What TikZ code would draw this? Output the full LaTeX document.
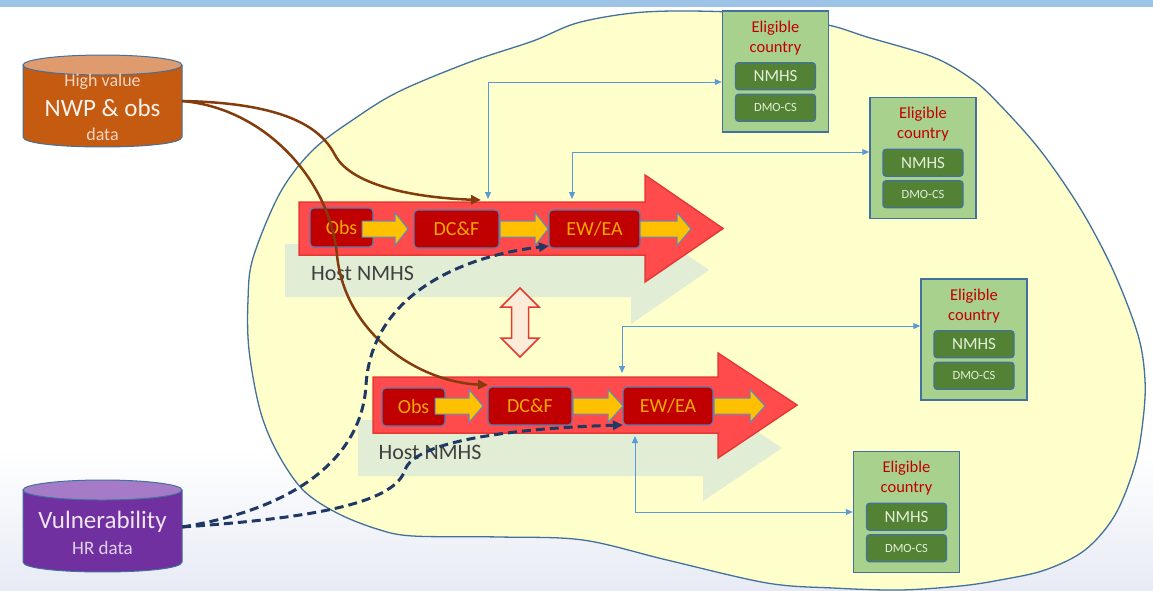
\documentclass[tikz,border=0pt]{standalone}
\usepackage{fontspec}
\setmainfont{Carlito}
\usetikzlibrary{arrows.meta,calc}
\definecolor{topbar}{HTML}{9DC3E6}
\definecolor{bgbot}{HTML}{E8EBF5}
\definecolor{blobfill}{HTML}{FFFFCC}
\definecolor{blobline}{HTML}{41719C}
\definecolor{arrred}{HTML}{FF4B4B}
\definecolor{arrredline}{HTML}{E53935}
\definecolor{shadowgr}{HTML}{E2EDD6}
\definecolor{boxred}{HTML}{C00000}
\definecolor{boxedge}{HTML}{5B7DB0}
\definecolor{boxtxt}{HTML}{F5A800}
\definecolor{yel}{HTML}{FFC000}
\definecolor{yeledge}{HTML}{5B8CC0}
\definecolor{hosttxt}{HTML}{404040}
\definecolor{dbfill}{HTML}{FDEBD9}
\definecolor{dbline}{HTML}{E03C31}
\definecolor{egreen}{HTML}{A9D18E}
\definecolor{dgreen}{HTML}{548235}
\definecolor{gtxt}{HTML}{E2F0D9}
\definecolor{etitle}{HTML}{C00000}
\definecolor{blink}{HTML}{5B9BD5}
\definecolor{brown}{HTML}{843C0C}
\definecolor{navy}{HTML}{1F3864}
\definecolor{cylor}{HTML}{C55A11}
\definecolor{cylortop}{HTML}{DF9B6E}
\definecolor{cylpu}{HTML}{7030A0}
\definecolor{cylputop}{HTML}{A57BC8}
\newcommand{\yelarrow}[4]{%
  \draw[yarrow] (#1,#4-8) -- (#2,#4-8) -- (#2,#4-16.5) -- (#3,#4) -- (#2,#4+16.5) -- (#2,#4+8) -- (#1,#4+8) -- cycle;}
\begin{document}
\begin{tikzpicture}[x=1pt,y=-1pt,
  rbox/.style={draw=boxedge, line width=1.2pt, fill=boxred, rounded corners=4pt, text=boxtxt, font=\fontsize{20}{22}\selectfont, inner sep=0pt},
  yarrow/.style={draw=yeledge, line width=1pt, fill=yel},
  bigarrow/.style={draw=arrredline, line width=1.5pt, fill=arrred},
  shadowarrow/.style={fill=shadowgr},
  hosttext/.style={text=hosttxt, font=\fontsize{22}{24}\selectfont, inner sep=0pt},
  ebox/.style={draw=blobline, line width=1.5pt, fill=egreen, minimum width=106pt, minimum height=121pt, inner sep=0pt},
  etitle/.style={text=etitle, font=\fontsize{16.5}{20}\selectfont, align=center, inner sep=0pt},
  gbox/.style={draw=blobline, line width=1.2pt, fill=dgreen, rounded corners=3pt, minimum width=80pt, minimum height=27pt, text=gtxt, font=\fontsize{17}{18}\selectfont, inner sep=0pt},
  gsmall/.style={font=\fontsize{12.5}{14}\selectfont},
  bline/.style={draw=blink, line width=1pt, {Triangle[length=7pt,width=6pt]}-{Triangle[length=7pt,width=6pt]}},
  bcurve/.style={draw=brown, line width=2.5pt, -{Triangle[length=10pt,width=9pt]}},
  ncurve/.style={draw=navy, line width=3pt, dash pattern=on 9pt off 5pt, -{Triangle[length=10pt,width=9pt]}},
  cyl/.style={draw=blobline, line width=1pt}
]
\useasboundingbox (0,0) rectangle (1153,590);
% background
\fill[white] (0,0) rectangle (1153,450);
\shade[top color=white, bottom color=bgbot] (0,450) rectangle (1153,590);
\fill[topbar] (0,0) rectangle (1153,7);
% blob
\draw[draw=blobline, line width=1.3pt, fill=blobfill] plot[smooth cycle, tension=0.55] coordinates {
 (690,11) (760,14) (828,25) (867,37) (933,57) (973,80) (1000,105) (1040,150) (1080,208) (1113,270)
 (1138,335) (1145,380) (1143,420) (1135,465) (1115,515) (1085,550) (1045,570) (1000,580) (960,586)
 (900,590) (833,588) (767,583) (667,560) (583,540) (500,537) (413,536) (377,529) (337,513) (303,490)
 (277,452) (260,410) (249,350) (248,300) (253,258) (280,193) (313,150) (357,117) (400,91) (470,62)
 (533,41) (577,23) (633,13)};
% shadow arrows
\fill[shadowarrow] (285,244) -- (631,244) -- (631,217) -- (709,270) -- (631,324) -- (631,297) -- (285,297) -- cycle;
\fill[shadowarrow] (358,420) -- (703,420) -- (703,396) -- (782,448) -- (703,501) -- (703,476) -- (358,476) -- cycle;
% big red arrows
\draw[bigarrow] (299,202) -- (645,202) -- (645,175) -- (723,228.5) -- (645,282) -- (645,255) -- (299,255) -- cycle;
\draw[bigarrow] (373,377) -- (718,377) -- (718,353) -- (797,405) -- (718,458) -- (718,433) -- (373,433) -- cycle;
% process boxes
\node[rbox, minimum width=63pt, minimum height=39pt] (obs1) at (341.5,227.5) {Obs};
\node[rbox, minimum width=85pt, minimum height=38pt] (dcf1) at (456.5,229) {DC\&F};
\node[rbox, minimum width=91pt, minimum height=38pt] (ewa1) at (594.5,229) {EW/EA};
\node[rbox, minimum width=63pt, minimum height=38pt] (obs2) at (413.5,407) {Obs};
\node[rbox, minimum width=84pt, minimum height=38pt] (dcf2) at (530,406) {DC\&F};
\node[rbox, minimum width=90pt, minimum height=38pt] (ewa2) at (668,406) {EW/EA};
% yellow arrows
\yelarrow{362}{395}{408}{229}
\yelarrow{500}{535}{548}{229}
\yelarrow{640}{677}{691}{229}
\yelarrow{435}{469}{483}{406}
\yelarrow{573}{608}{623}{406}
\yelarrow{714}{750}{765}{406}
% host labels
\node[hosttext] (host1) at (362.5,273) {Host NMHS};
\node[hosttext] (host2) at (430,452) {Host NMHS};
% double arrow
\draw[fill=dbfill, draw=dbline, line width=1.5pt, line join=miter] (520,288) -- (539,307) -- (528.5,307) -- (528.5,338) -- (539,338) -- (520,357) -- (501,338) -- (511.5,338) -- (511.5,307) -- (501,307) -- cycle;
% eligible country boxes
\foreach \i/\cx/\cy in {1/775.5/71.5, 2/923/158, 3/974/339.5, 4/906.5/512} {
  \node[ebox] (ec\i) at (\cx,\cy) {};
  \node[etitle] (et\i) at ($(ec\i.north)+(0,27.5)$) {Eligible\\country};
  \node[gbox] (nm\i) at ($(ec\i.north)+(0,66)$) {NMHS};
  \node[gbox, gsmall] (dm\i) at ($(ec\i.north)+(0,97.5)$) {DMO-CS};
}
% blue links
\coordinate (t1) at (488,199);
\coordinate (t2) at (572,199);
\coordinate (t3) at (622,373);
\coordinate (t4) at (635,436);
\draw[bline] (t1) |- ($(ec1.west)+(0,10.5)$);
\draw[bline] (t2) |- ($(ec2.west)+(0,-6)$);
\draw[bline] (t3) |- ($(ec3.west)+(0,-13.5)$);
\draw[bline] (t4) |- (ec4.west);
% cylinders
\fill[cylor] (23,65) -- (23,137) .. controls (23,150.3) and (182,150.3) .. (182,137) -- (182,65) -- cycle;
\draw[cyl] (23,65) -- (23,137) .. controls (23,150.3) and (182,150.3) .. (182,137) -- (182,65);
\draw[cyl, fill=cylortop] (102.5,65) ellipse [x radius=79.5, y radius=10];
\node[text=cylortop!40!white, font=\fontsize{18}{20}\selectfont, inner sep=0pt] (hv) at (102.5,82) {High value};
\node[text=white!92!cylor, font=\fontsize{25}{28}\selectfont, inner sep=0pt] (nwptxt) at (102.5,108) {NWP \& obs};
\node[text=cylortop!40!white, font=\fontsize{18}{20}\selectfont, inner sep=0pt] (datatxt) at (102.5,134) {data};
\fill[cylpu] (23,490) -- (23,562) .. controls (23,575.3) and (182,575.3) .. (182,562) -- (182,490) -- cycle;
\draw[cyl] (23,490) -- (23,562) .. controls (23,575.3) and (182,575.3) .. (182,562) -- (182,490);
\draw[cyl, fill=cylputop] (102.5,490) ellipse [x radius=79.5, y radius=10];
\node[text=white!88!cylpu, font=\fontsize{25}{28}\selectfont, inner sep=0pt] (vultxt) at (102.5,522) {Vulnerability};
\node[text=white!78!cylpu, font=\fontsize{19}{21}\selectfont, inner sep=0pt] (hrtxt) at (102.5,548) {HR data};
\coordinate (nwp) at (182,101);
\coordinate (vul) at (182,527);
% brown curves
\coordinate (a1) at (481,200);
\coordinate (b1) at (488,385);
\draw[bcurve] (nwp) .. controls (290,103) and (322,130) .. (335,155) .. controls (352,187) and (420,198) .. (a1);
\draw[bcurve] (nwp) .. controls (265,108) and (330,180) .. (337,255) .. controls (345,335) and (420,382) .. (b1);
% navy dashed curves
\coordinate (d1) at (549,246);
\coordinate (d2) at (623,425);
\draw[ncurve] (vul) .. controls (300,508) and (362,455) .. (366,385) .. controls (372,290) and (470,255) .. (d1);
\draw[ncurve] (vul) .. controls (330,517) and (395,500) .. (405,470) .. controls (415,440) and (520,428) .. (d2);
\end{tikzpicture}
\end{document}
